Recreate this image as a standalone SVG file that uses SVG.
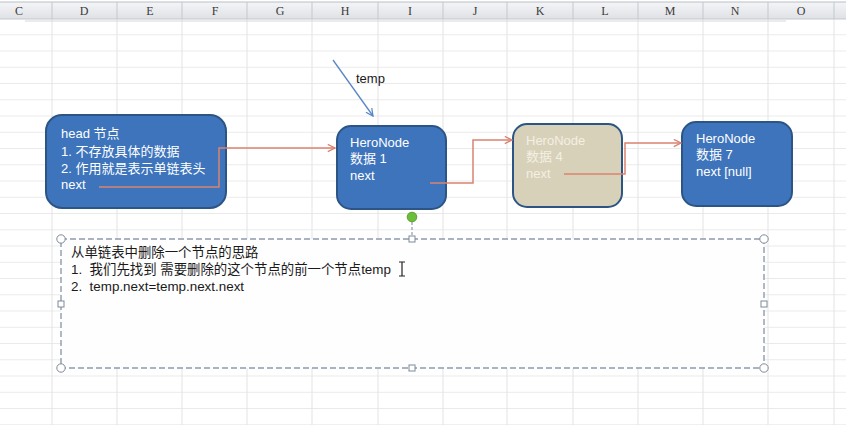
<svg xmlns="http://www.w3.org/2000/svg" width="846" height="425" viewBox="0 0 846 425">
  <defs>
    <linearGradient id="hdr" x1="0" y1="0" x2="0" y2="1">
      <stop offset="0" stop-color="#f4f5f7"/>
      <stop offset="1" stop-color="#dfe1e5"/>
    </linearGradient>
    <marker id="arrRed" viewBox="0 0 10 10" refX="9" refY="5" markerWidth="9" markerHeight="9" markerUnits="userSpaceOnUse" orient="auto">
      <path d="M1,1 L9,5 L1,9" fill="none" stroke="#d9826f" stroke-width="1.4"/>
    </marker>
    <marker id="arrBlue" viewBox="0 0 10 10" refX="9" refY="5" markerWidth="9" markerHeight="9" markerUnits="userSpaceOnUse" orient="auto">
      <path d="M1,1 L9,5 L1,9" fill="none" stroke="#5a87c6" stroke-width="1.4"/>
    </marker>
    <pattern id="rows" x="0" y="19" width="846" height="16.25" patternUnits="userSpaceOnUse">
      <line x1="0" y1="16" x2="846" y2="16" stroke="#e3e3e3" stroke-width="1"/>
    </pattern>
  </defs>
  <style>
    .col { font-family: "Liberation Serif", "DejaVu Serif", serif; font-size: 12px; fill: #3a3a3a; text-anchor: middle; }
    .vgrid { stroke: #e3e3e3; stroke-width: 1; }
    .node-blue { fill: #3d74bc; stroke: #2c5585; stroke-width: 2; }
    .node-tan { fill: #d8d1b9; stroke: #2c5585; stroke-width: 2; }
    .nt { font-family: "Liberation Sans", "Noto Sans CJK SC", sans-serif; font-size: 13px; fill: #ffffff; }
    .nt-faint { font-family: "Liberation Sans", "Noto Sans CJK SC", sans-serif; font-size: 13px; fill: #f3efe3; }
    .link { fill: none; stroke: #d9826f; stroke-width: 1.5; marker-end: url(#arrRed); }
    .bt { font-family: "Liberation Sans", "Noto Sans CJK SC", sans-serif; font-size: 13.4px; fill: #1a1a1a; }
    .frame { fill: #fefefe; stroke: #8e9bb0; stroke-width: 1.4; stroke-dasharray: 6 3; }
    .hc { fill: #ffffff; stroke: #7f8a99; stroke-width: 1; }
  </style>

  <!-- sheet background and grid -->
  <rect x="0" y="0" width="846" height="425" fill="#ffffff"/>
  <rect x="0" y="19" width="846" height="406" fill="url(#rows)"/>
  <g id="grid-columns">
    <line class="vgrid" x1="52" y1="19" x2="52" y2="425"/>
    <line class="vgrid" x1="117" y1="19" x2="117" y2="425"/>
    <line class="vgrid" x1="182" y1="19" x2="182" y2="425"/>
    <line class="vgrid" x1="247" y1="19" x2="247" y2="425"/>
    <line class="vgrid" x1="312" y1="19" x2="312" y2="425"/>
    <line class="vgrid" x1="378" y1="19" x2="378" y2="425"/>
    <line class="vgrid" x1="443" y1="19" x2="443" y2="425"/>
    <line class="vgrid" x1="507" y1="19" x2="507" y2="425"/>
    <line class="vgrid" x1="573" y1="19" x2="573" y2="425"/>
    <line class="vgrid" x1="638" y1="19" x2="638" y2="425"/>
    <line class="vgrid" x1="703" y1="19" x2="703" y2="425"/>
    <line class="vgrid" x1="768" y1="19" x2="768" y2="425"/>
    <line class="vgrid" x1="834" y1="19" x2="834" y2="425"/>
  </g>

  <!-- column header -->
  <g id="column-header">
    <rect x="0" y="2" width="846" height="17" fill="url(#hdr)"/>
    <line x1="0" y1="2" x2="846" y2="2" stroke="#b9bec6" stroke-width="1"/>
    <line x1="0" y1="19" x2="846" y2="19" stroke="#c3c7cd" stroke-width="1"/>
    <g stroke="#c3c7cd" stroke-width="1">
      <line x1="52" y1="2" x2="52" y2="19"/>
      <line x1="117" y1="2" x2="117" y2="19"/>
      <line x1="182" y1="2" x2="182" y2="19"/>
      <line x1="247" y1="2" x2="247" y2="19"/>
      <line x1="312" y1="2" x2="312" y2="19"/>
      <line x1="378" y1="2" x2="378" y2="19"/>
      <line x1="443" y1="2" x2="443" y2="19"/>
      <line x1="507" y1="2" x2="507" y2="19"/>
      <line x1="573" y1="2" x2="573" y2="19"/>
      <line x1="638" y1="2" x2="638" y2="19"/>
      <line x1="703" y1="2" x2="703" y2="19"/>
      <line x1="768" y1="2" x2="768" y2="19"/>
      <line x1="834" y1="2" x2="834" y2="19"/>
    </g>
    <text class="col" x="19" y="15">C</text>
    <text class="col" x="84" y="15">D</text>
    <text class="col" x="150" y="15">E</text>
    <text class="col" x="215" y="15">F</text>
    <text class="col" x="280" y="15">G</text>
    <text class="col" x="345" y="15">H</text>
    <text class="col" x="410" y="15">I</text>
    <text class="col" x="475" y="15">J</text>
    <text class="col" x="540" y="15">K</text>
    <text class="col" x="605" y="15">L</text>
    <text class="col" x="670" y="15">M</text>
    <text class="col" x="735" y="15">N</text>
    <text class="col" x="801" y="15">O</text>
    <line x1="25" y1="21" x2="786" y2="21" stroke="#d4d7dc" stroke-width="1"/>
  </g>

  <!-- linked-list nodes -->
  <g id="head">
    <rect class="node-blue" x="46" y="115" width="180" height="93" rx="16"/>
    <text class="nt" x="61" y="138">head 节点</text>
    <text class="nt" x="61" y="156">1. 不存放具体的数据</text>
    <text class="nt" x="61" y="173">2. 作用就是表示单链表头</text>
    <text class="nt" x="61" y="189">next</text>
  </g>

  <g id="node1">
    <rect class="node-blue" x="337" y="126" width="109" height="83" rx="14"/>
    <text class="nt" x="350" y="147">HeroNode</text>
    <text class="nt" x="350" y="163">数据 1</text>
    <text class="nt" x="350" y="180">next</text>
  </g>

  <g id="node4">
    <rect class="node-tan" x="513" y="124" width="109" height="83" rx="14"/>
    <text class="nt-faint" x="526" y="145">HeroNode</text>
    <text class="nt-faint" x="526" y="161">数据 4</text>
    <text class="nt-faint" x="526" y="178">next</text>
  </g>

  <g id="node7">
    <rect class="node-blue" x="682" y="122" width="110" height="84" rx="14"/>
    <text class="nt" x="696" y="143">HeroNode</text>
    <text class="nt" x="696" y="159">数据 7</text>
    <text class="nt" x="696" y="176">next [null]</text>
  </g>

  <g id="temp-label">
    <text x="356" y="83" font-family="Liberation Sans, sans-serif" font-size="13" fill="#1a1a1a">temp</text>
  </g>

  <!-- connectors -->
  <g id="connectors">
    <path class="link" d="M99,187 H219 V148 H335"/>
    <path class="link" d="M430,183 H473 V140 H512"/>
    <path class="link" d="M564,174 H625 V143 H681"/>
    <line x1="333" y1="60" x2="373" y2="116" stroke="#5a87c6" stroke-width="1.3" marker-end="url(#arrBlue)"/>
  </g>

  <!-- selected text box with its resize handles -->
  <g id="note">
    <rect class="frame" x="61" y="239" width="703" height="129"/>
    <line x1="412" y1="222" x2="412" y2="236" stroke="#8e9bb0" stroke-width="1.2" stroke-dasharray="3 2"/>
    <circle cx="412" cy="217" r="4.8" fill="#6cbd3a" stroke="#5aa02e" stroke-width="1"/>
    <circle class="hc" cx="61" cy="239" r="4.2"/>
    <circle class="hc" cx="764" cy="239" r="4.2"/>
    <circle class="hc" cx="61" cy="368" r="4.2"/>
    <circle class="hc" cx="764" cy="368" r="4.2"/>
    <rect class="hc" x="409" y="236" width="6" height="6"/>
    <rect class="hc" x="409" y="365" width="6" height="6"/>
    <rect class="hc" x="58" y="301" width="6" height="6"/>
    <rect class="hc" x="761" y="301" width="6" height="6"/>
    <text class="bt" x="71" y="257">从单链表中删除一个节点的思路</text>
    <text class="bt" x="71" y="274" xml:space="preserve">1.  我们先找到 需要删除的这个节点的前一个节点temp</text>
    <text class="bt" x="71" y="291" xml:space="preserve">2.  temp.next=temp.next.next</text>
    <!-- text cursor -->
    <path d="M399,262 H405 M402,262 V276 M399,276 H405" fill="none" stroke="#222" stroke-width="1.2"/>
  </g>
</svg>
